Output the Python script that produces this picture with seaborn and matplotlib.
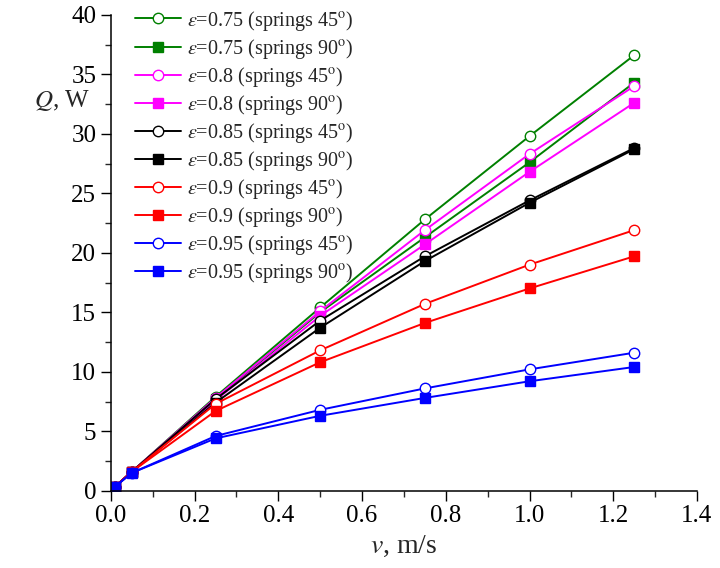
import numpy as np
import pandas as pd
import seaborn as sns
import matplotlib.pyplot as plt
from matplotlib.ticker import MultipleLocator

# flow velocity, m/s
v = [0.01, 0.05, 0.25, 0.5, 0.75, 1.0, 1.25]

# heat flow Q, W
q_075_45 = [0.35, 1.6, 7.9, 15.4, 22.8, 29.8, 36.6]
q_075_90 = [0.35, 1.6, 7.7, 15.0, 21.3, 27.6, 34.3]
q_080_45 = [0.35, 1.6, 7.8, 15.1, 21.9, 28.3, 34.0]
q_080_90 = [0.35, 1.6, 7.6, 14.7, 20.7, 26.8, 32.6]
q_085_45 = [0.35, 1.6, 7.7, 14.3, 19.7, 24.4, 28.8]
q_085_90 = [0.35, 1.6, 7.4, 13.7, 19.3, 24.2, 28.7]
q_090_45 = [0.35, 1.6, 7.3, 11.8, 15.7, 19.0, 21.9]
q_090_90 = [0.35, 1.6, 6.7, 10.8, 14.1, 17.0, 19.7]
q_095_45 = [0.35, 1.5, 4.6, 6.8, 8.6, 10.2, 11.6]
q_095_90 = [0.35, 1.5, 4.4, 6.3, 7.8, 9.2, 10.4]

eps_labels = ["0.75", "0.75", "0.8", "0.8", "0.85", "0.85", "0.9", "0.9", "0.95", "0.95"]
angles = ["45", "90"] * 5
series = [q_075_45, q_075_90, q_080_45, q_080_90, q_085_45,
          q_085_90, q_090_45, q_090_90, q_095_45, q_095_90]
colors = ["#008000", "#008000", "#ff00ff", "#ff00ff", "black",
          "black", "#ff0000", "#ff0000", "#0000ff", "#0000ff"]

sns.set_style("ticks")
plt.rcParams["font.family"] = ["Liberation Serif", "DejaVu Serif"]
plt.rcParams["mathtext.fontset"] = "stix"

fig, ax = plt.subplots(figsize=(7.2, 5.68), dpi=100)
fig.subplots_adjust(left=0.154, right=0.968, top=0.974, bottom=0.136)

for eps, ang, q, c in zip(eps_labels, angles, series, colors):
    label = r"$\varepsilon$=" + eps + " (springs " + ang + r"$^{\rm o}$)"
    if ang == "45":
        mk, mfc, ms = "o", "white", 7.5
    else:
        mk, mfc, ms = "s", c, 7
    sns.lineplot(x=v, y=q, ax=ax, color=c, marker=mk, markersize=ms,
                 markerfacecolor=mfc, markeredgecolor=c, markeredgewidth=1.0,
                 linewidth=1.4, label=label)

ax.set_xlim(0, 1.4)
ax.set_ylim(0, 40)
ax.xaxis.set_major_locator(MultipleLocator(0.2))
ax.xaxis.set_minor_locator(MultipleLocator(0.1))
ax.yaxis.set_major_locator(MultipleLocator(5))
ax.yaxis.set_minor_locator(MultipleLocator(2.5))
ax.xaxis.set_major_formatter(lambda x, p: f"{x:.1f}")
ax.tick_params(which="major", direction="out", length=7, width=1, labelsize=18, colors="black")
ax.tick_params(which="minor", direction="out", length=4, width=1)
sns.despine(ax=ax)
for s in ["left", "bottom"]:
    ax.spines[s].set_linewidth(1.1)
    ax.spines[s].set_color("black")

ax.set_xlabel(r"$v$, m/s", fontsize=20, labelpad=5)
ax.set_ylabel(r"$Q$, W", fontsize=18, rotation=0, va="center")
ax.yaxis.set_label_coords(-0.084, 0.82)

ax.legend(loc="upper left", bbox_to_anchor=(0.027, 1.03), frameon=False,
          fontsize=14.5, handlelength=2.3, handletextpad=0.3, labelspacing=0.2,
          borderaxespad=0)

fig.savefig("out.png", dpi=100)
